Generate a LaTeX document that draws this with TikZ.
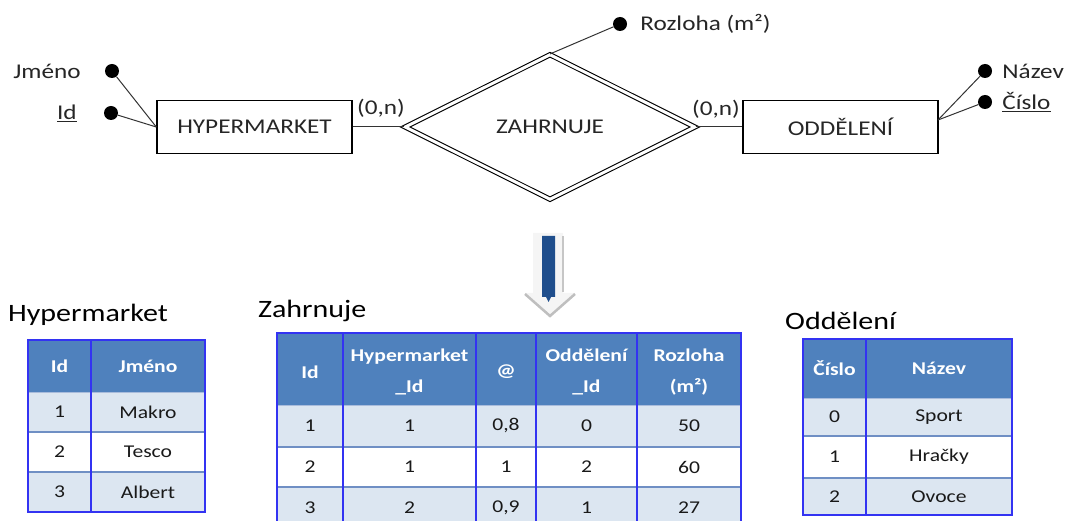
\documentclass[tikz,border=0pt]{standalone}
\usepackage{fontspec}
\setmainfont{Carlito}[FakeStretch=1.2]
\usetikzlibrary{shapes.geometric, positioning}

\definecolor{hdrblue}{HTML}{4F81BD}
\definecolor{rowblue}{HTML}{DCE6F1}
\definecolor{gridblue}{HTML}{3333F2}
\definecolor{sepblue}{HTML}{6F8FC4}
\definecolor{arrowblue}{HTML}{1F4E8C}

\begin{document}
\begin{tikzpicture}[x=1pt, y=-1pt,
    er/.style={font=\fontsize{21}{25}\selectfont, text=black!85},
    entity/.style={er, rectangle, draw, line width=1.4pt, minimum width=195pt,
      minimum height=53pt, inner sep=0pt},
    relship/.style={er, diamond, draw, line width=1.1pt, double, double distance=3pt,
      minimum width=290pt, minimum height=145pt, inner sep=0pt},
    attrdot/.style={circle, fill=black, minimum size=14pt, inner sep=0pt},
    attr/.style={er, inner sep=0pt},
    link/.style={line width=1pt, black!80},
    tabtitle/.style={font=\fontsize{25}{30}\selectfont, inner sep=0pt, anchor=base west},
    cell/.style={font=\fontsize{18}{30}\selectfont, text=black!90, inner sep=0pt, align=center},
    hcell/.style={cell, font=\bfseries\fontsize{18}{31}\selectfont, text=white},
    tabframe/.style={draw=gridblue, line width=1.5pt},
    rowsep/.style={draw=sepblue, line width=2pt},
  ]
  \useasboundingbox (0,0) rectangle (1068,521);

  % E-R part
  \node[entity]  (hyper)    at (254.5,127) {HYPERMARKET};
  \node[relship] (zahrnuje) at (550,127)   {ZAHRNUJE};
  \node[entity]  (oddeleni) at (840.5,127) {ODDĚLENÍ};

  \node[attrdot] (jmeno-dot) at (112,71) {};
  \node[attr, left=24pt of jmeno-dot] (jmeno) {Jméno};
  \node[attrdot] (id-dot) at (111,113) {};
  \node[attr, left=27pt of id-dot] (id) {\underline{Id}};

  \node[attrdot] (rozloha-dot) at (620,24) {};
  \node[attr, right=13pt of rozloha-dot] (rozloha) {Rozloha (m²)};

  \node[attrdot] (nazev-dot) at (985,71) {};
  \node[attr, right=10pt of nazev-dot] (nazev) {Název};
  \node[attrdot] (cislo-dot) at (985,102) {};
  \node[attr, right=10pt of cislo-dot] (cislo) {\underline{Číslo}};

  \node[attr] (card-hyper) at (381,108) {(0,n)};
  \node[attr] (card-odd)   at (716,109) {(0,n)};

  \coordinate (odd-hub) at (938,120);
  \draw[link] (jmeno-dot) -- (hyper.west);
  \draw[link] (id-dot) -- (hyper.west);
  \draw[link] (hyper) -- (zahrnuje);
  \draw[link] (zahrnuje) -- (oddeleni);
  \draw[link] (zahrnuje.north) -- (rozloha-dot);
  \draw[link] (nazev-dot) -- (odd-hub);
  \draw[link] (cislo-dot) -- (odd-hub);

  % arrow down to the tables
  \fill[gray!8] (533,233) -- (563,233) -- (563,293) -- (575,293) -- (550,315)
    -- (525,293) -- (533,293) -- cycle;
  \draw[gray!45, line width=2pt] (563,236) -- (563,292);
  \draw[gray!50, line width=2.5pt] (525,294) -- (550,316) -- (575,294);
  \fill[arrowblue] (542,236) -- (555,236) -- (555,297) -- (551,297) -- (548.5,302)
    -- (546,297) -- (542,297) -- cycle;

  % table Hypermarket
  \node[tabtitle] (hm-title) at (8,322) {Hypermarket};
  \fill[hdrblue] (28,340) rectangle (205,392);
  \fill[rowblue] (28,392) rectangle (205,432);
  \fill[rowblue] (28,472) rectangle (205,512);
  \draw[rowsep] (28,432) -- (205,432) (28,472) -- (205,472);
  \draw[sepblue!60, line width=1pt] (28,392) -- (205,392);
  \draw[tabframe] (28,340) rectangle (205,512) (91,340) -- (91,512);
  \node[hcell] (hm-h1) at (59.5,366) {Id};
  \node[hcell] (hm-h2) at (148,366) {Jméno};
  \foreach \id/\name [count=\r] in {1/Makro, 2/Tesco, 3/Albert} {
    \node[cell] (hm-\r-1) at (59.5,{372+40*\r}) {\id};
    \node[cell] (hm-\r-2) at (148,{372+40*\r}) {\name};
  }

  % table Zahrnuje
  \node[tabtitle] (za-title) at (258,317) {Zahrnuje};
  \fill[hdrblue] (277,333) rectangle (741,405);
  \fill[rowblue] (277,405) rectangle (741,447);
  \fill[rowblue] (277,487) rectangle (741,530);
  \draw[rowsep] (277,447) -- (741,447) (277,487) -- (741,487);
  \draw[sepblue!60, line width=1pt] (277,405) -- (741,405);
  \draw[tabframe] (277,530) -- (277,333) -- (741,333) -- (741,530);
  \foreach \x in {343,476,536,637}
    \draw[tabframe] (\x,333) -- (\x,530);
  \node[hcell] (za-h1) at (310,372)   {Id};
  \node[hcell] (za-h2) at (409.5,372) {Hypermarket\\\_Id};
  \node[hcell] (za-h3) at (506,372)   {@};
  \node[hcell] (za-h4) at (586.5,372) {Oddělení\\\_Id};
  \node[hcell] (za-h5) at (689,372)   {Rozloha\\(m²)};
  \foreach \id/\hid/\w/\oid/\area [count=\r] in
      {1/1/{0,8}/0/50, 2/1/1/2/60, 3/2/{0,9}/1/27} {
    \node[cell] (za-\r-1) at (310,{385+41*\r})   {\id};
    \node[cell] (za-\r-2) at (409.5,{385+41*\r}) {\hid};
    \node[cell] (za-\r-3) at (506,{385+41*\r})   {\w};
    \node[cell] (za-\r-4) at (586.5,{385+41*\r}) {\oid};
    \node[cell] (za-\r-5) at (689,{385+41*\r})   {\area};
  }

  % table Oddělení
  \node[tabtitle] (od-title) at (785,330) {Oddělení};
  \fill[hdrblue] (803,339) rectangle (1012,398);
  \fill[rowblue] (803,398) rectangle (1012,436);
  \fill[rowblue] (803,478) rectangle (1012,515);
  \draw[rowsep] (803,436) -- (1012,436) (803,478) -- (1012,478);
  \draw[sepblue!60, line width=1pt] (803,398) -- (1012,398);
  \draw[tabframe] (803,339) rectangle (1012,515) (866,339) -- (866,515);
  \node[hcell] (od-h1) at (834.5,368.5) {Číslo};
  \node[hcell] (od-h2) at (939,368.5)   {Název};
  \foreach \id/\name [count=\r] in {0/Sport, 1/Hračky, 2/Ovoce} {
    \node[cell] (od-\r-1) at (834.5,{377+40*\r}) {\id};
    \node[cell] (od-\r-2) at (939,{377+40*\r})   {\name};
  }
\end{tikzpicture}
\end{document}
